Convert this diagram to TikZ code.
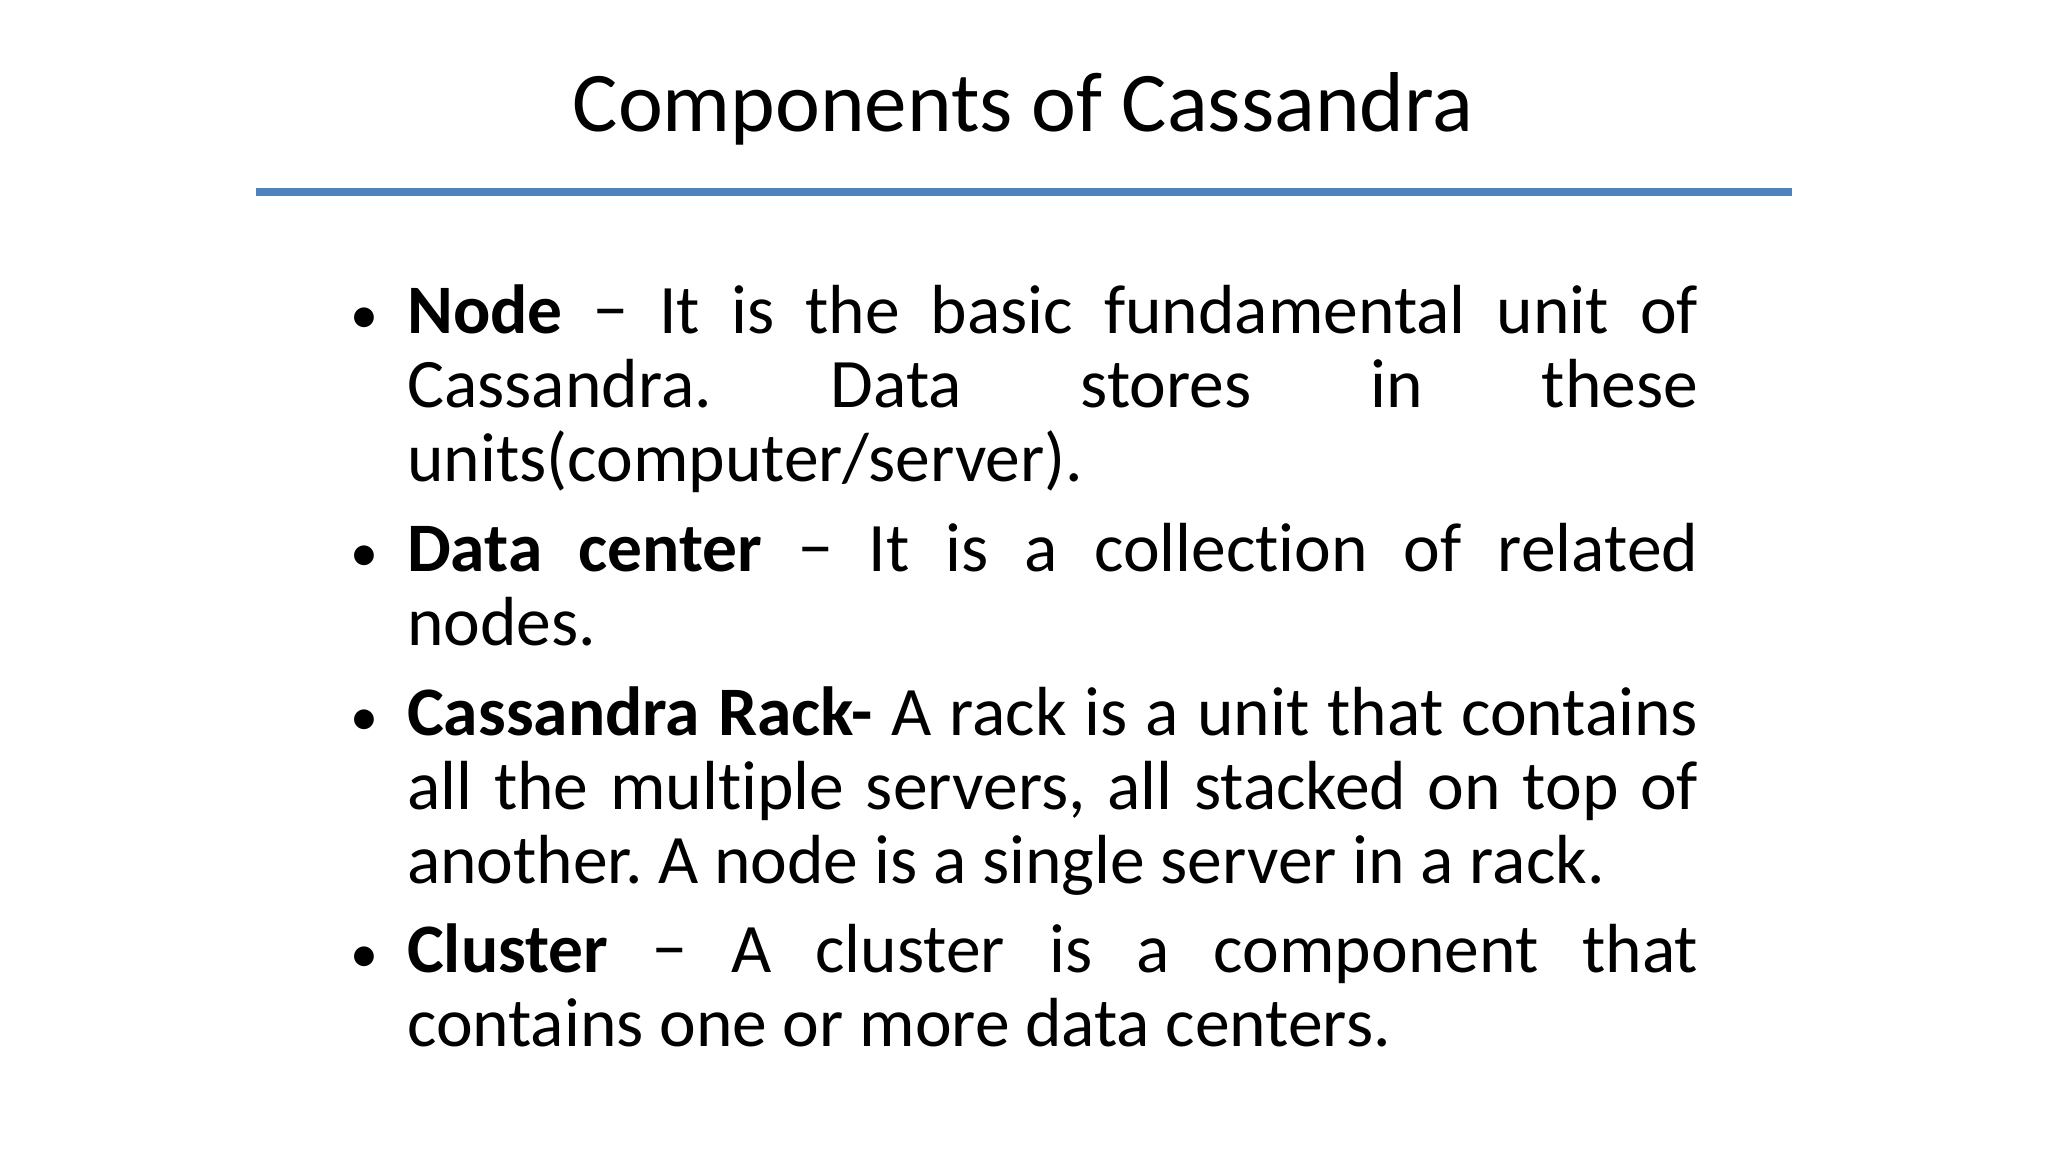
\documentclass[tikz,border=0pt]{standalone}
\usepackage{fontspec}
\setmainfont{Carlito}[Ligatures=NoCommon]
\definecolor{rule}{HTML}{4F81BD}
\begin{document}
\frenchspacing
\begin{tikzpicture}[x=1pt,y=-1pt,
  item/.style={anchor=base west,inner sep=0pt},
  bul/.style={anchor=base west,inner sep=0pt,font=\fontsize{56}{74}\selectfont}]
\fill[white] (0,0) rectangle (2048,1152);
\useasboundingbox (0,0) rectangle (2048,1152);
\node[anchor=base,inner sep=0pt,font=\fontsize{85}{100}\selectfont] (title) at (1023,131) {Components of Cassandra};
\draw[rule,line width=8pt] (256,192) coordinate (r1) -- (1792,192) coordinate (r2);
\newcommand{\itm}[1]{\parbox[t]{1291pt}{\parindent=0pt\hyphenpenalty=10000\exhyphenpenalty=10000\fontsize{69.5}{74}\selectfont #1}}
\node[bul] (b1) at (350,333) {•};
\node[item] (i1) at (407,333) {\itm{\textbf{Node} \char"2212{} It is the basic fundamental unit of\linebreak Cassandra. Data stores in these\linebreak units(computer/server).}};
\node[bul] (b2) at (350,571) {•};
\node[item] (i2) at (407,571) {\itm{\textbf{Data center} \char"2212{} It is a collection of related\linebreak nodes.}};
\node[bul] (b3) at (350,735) {•};
\node[item] (i3) at (407,735) {\itm{\textbf{Cassandra Rack-} A rack is a unit that contains\linebreak all the multiple servers, all stacked on top of\linebreak another. A node is a single server in a rack.}};
\node[bul] (b4) at (350,972) {•};
\node[item] (i4) at (407,972) {\itm{\textbf{Cluster} \char"2212{} A cluster is a component that\linebreak contains one or more data centers.}};
\end{tikzpicture}
\end{document}
